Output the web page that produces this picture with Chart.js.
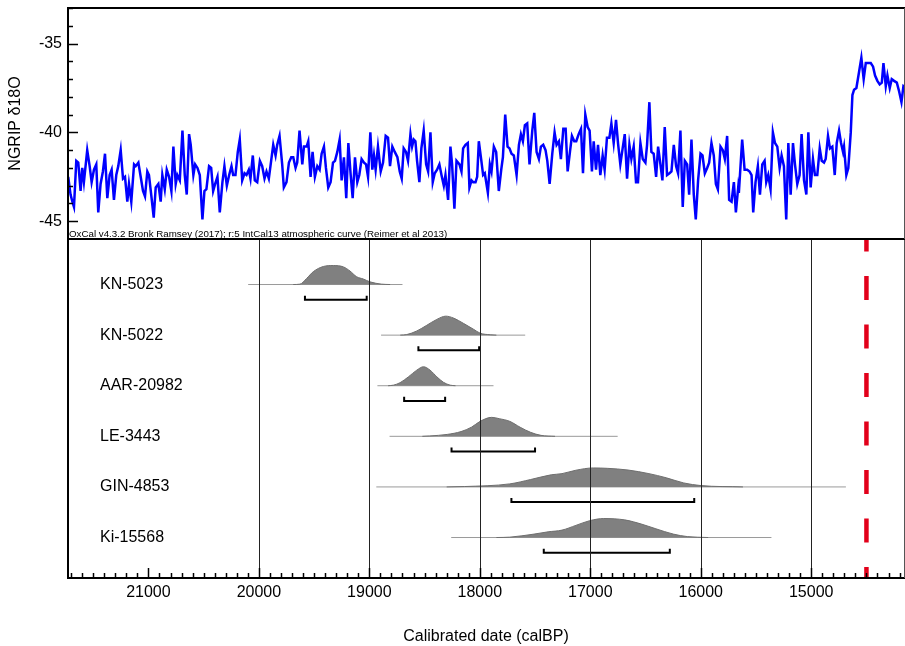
<!DOCTYPE html>
<html>
<head>
<meta charset="utf-8">
<script src="https://cdn.jsdelivr.net/npm/chart.js@4.4.0/dist/chart.umd.min.js"></script>
<style>
    body { margin: 0; background: #fff; }
    #wrap { position: relative; width: 905px; height: 646px; }
    canvas { position: absolute; left: 0; }
</style>
</head>
<body>
<div id="wrap">
    <canvas id="ngripChart" width="905" height="240" style="top:0"></canvas>
    <canvas id="datesChart" width="905" height="406" style="top:240px"></canvas>
</div>
<script>
// --- NGRIP d18O record (age calBP, permil) ---
const ngripAge = [
    21726, 21705, 21684, 21674, 21653, 21635, 21614, 21599, 21584, 21569, 21554, 21532, 21514, 21493, 21472, 21454,
    21433, 21412, 21393, 21372, 21351, 21333, 21312, 21291, 21273, 21251, 21230, 21212, 21191, 21176, 21155, 21130,
    21115, 21091, 21070, 21049, 21031, 21010, 20995, 20973, 20952, 20934, 20910, 20889, 20874, 20852, 20834, 20813,
    20792, 20774, 20753, 20738, 20716, 20692, 20671, 20653, 20632, 20617, 20593, 20577, 20556, 20535, 20511, 20493,
    20475, 20451, 20432, 20414, 20396, 20375, 20354, 20330, 20312, 20290, 20269, 20248, 20233,
    20212, 20191, 20173, 20151, 20130, 20112, 20091, 20076, 20055, 20037, 20015, 19991, 19970, 19949, 19931, 19910,
    19889, 19870, 19849, 19834, 19813, 19789, 19774, 19750, 19728, 19707, 19689, 19668, 19653, 19632, 19607, 19592,
    19568, 19553, 19532, 19514, 19493, 19471, 19450, 19432, 19411, 19393, 19372, 19351, 19329, 19311, 19290, 19269,
    19251, 19230, 19209, 19190, 19169, 19151, 19130, 19109, 19091, 19070, 19048, 19030, 19012, 18991, 18973, 18958,
    18943, 18922, 18897, 18876, 18852, 18831, 18813, 18792, 18770, 18746, 18725, 18707,
    18689, 18668, 18650, 18628, 18613, 18598, 18583, 18568, 18547, 18529, 18508, 18486, 18468, 18447, 18426, 18408,
    18387, 18366, 18347, 18326, 18311, 18287, 18266, 18251, 18230, 18211, 18184, 18166, 18151, 18130, 18109, 18094,
    18075, 18060, 18039, 18024, 18009, 17988, 17970, 17955, 17927, 17909, 17894, 17873, 17852, 17828, 17806, 17791,
    17770, 17749, 17731, 17713, 17692, 17667, 17646, 17628, 17610, 17592, 17571, 17550, 17525, 17507, 17486, 17465,
    17447, 17426, 17405, 17389, 17368, 17344, 17323, 17305, 17284, 17266, 17244, 17223, 17205, 17184,
    17166, 17145, 17127, 17105, 17084, 17066, 17045, 17024, 17006, 16985, 16969, 16948, 16930, 16909, 16888, 16870,
    16849, 16827, 16809, 16788, 16767, 16749, 16728, 16707, 16688, 16667, 16646, 16628, 16607, 16586, 16568, 16546,
    16525, 16501, 16486, 16465, 16447, 16426, 16404, 16386, 16365, 16347, 16326, 16305, 16283, 16265, 16244, 16223,
    16205, 16184, 16163, 16144, 16123, 16105, 16084, 16063, 16045, 16024, 16002, 15984, 15963, 15942, 15924, 15903,
    15882, 15863, 15845, 15821, 15800, 15782, 15761, 15743, 15721, 15700, 15682, 15661,
    15655, 15625, 15603, 15579, 15558, 15540, 15525, 15504, 15483, 15464, 15443, 15422, 15407, 15389, 15368, 15347,
    15328, 15307, 15286, 15268, 15247, 15226, 15207, 15186, 15165, 15147, 15126, 15105, 15087, 15065, 15044, 15026,
    15005, 14984, 14966, 14945, 14923, 14905, 14884, 14869, 14848, 14830, 14809, 14787, 14769, 14748, 14730, 14712,
    14703, 14682, 14664, 14642, 14627, 14612, 14591, 14567, 14546, 14525, 14506, 14485, 14461, 14440, 14422, 14401,
    14380, 14361, 14346, 14325, 14310, 14289, 14271, 14250, 14225, 14204, 14183, 14165, 14144
];
const ngripD18O = [
    -42.5, -43.5, -44.0, -44.2, -41.6, -41.7, -43.3, -42.0, -42.8, -41.9, -41.0, -41.9, -42.8, -42.1, -41.8, -44.5,
    -42.9, -42.2, -41.2, -43.7, -42.4, -42.1, -43.8, -42.4, -41.9, -41.0, -42.6, -42.5, -43.9, -42.9, -43.9, -41.8,
    -41.9, -41.7, -42.5, -43.3, -43.6, -42.2, -42.4, -43.6, -44.8, -43.1, -42.9, -43.9, -42.4, -43.2, -42.1, -42.5,
    -43.3, -40.8, -42.9, -42.4, -42.7, -39.9, -42.4, -43.5, -40.1, -40.7, -42.4, -41.8, -42.0, -42.4, -44.9, -43.3,
    -43.2, -41.9, -42.0, -43.3, -42.9, -42.5, -44.5, -42.8, -41.9, -43.0, -42.4, -41.9, -42.4,
    -42.4, -41.1, -40.4, -42.7, -42.3, -42.4, -42.1, -42.6, -41.3, -42.7, -42.8, -41.6, -41.9, -42.6, -42.2, -42.6,
    -41.6, -40.7, -41.3, -40.7, -40.2, -41.8, -43.1, -42.8, -41.7, -41.4, -41.4, -42.0, -41.7, -39.9, -41.8, -40.8,
    -40.8, -40.5, -42.5, -41.1, -42.5, -41.9, -42.1, -41.2, -40.8, -42.0, -43.1, -42.8, -41.7, -41.6, -41.1, -40.4,
    -42.7, -41.4, -43.7, -40.6, -42.4, -43.7, -41.4, -42.8, -42.4, -41.5, -41.7, -41.8, -42.5, -40.0, -42.1, -41.3,
    -42.1, -40.8, -42.2, -41.7, -40.2, -40.3, -41.9, -40.8, -41.1, -41.4, -42.2, -42.6,
    -40.9, -41.1, -41.6, -40.1, -40.8, -40.4, -40.5, -41.6, -42.8, -40.9, -39.9, -41.8, -42.2, -40.0, -42.8, -42.3,
    -42.1, -41.8, -42.4, -43.0, -42.4, -43.8, -40.8, -41.8, -44.3, -41.6, -41.8, -42.2, -40.9, -40.7, -40.6, -43.1,
    -42.7, -42.8, -42.8, -42.5, -40.5, -41.5, -42.4, -42.3, -43.4, -41.8, -42.2, -40.8, -41.1, -43.3, -42.1, -41.4,
    -39.0, -40.8, -40.9, -41.2, -41.3, -42.4, -40.7, -40.1, -40.5, -39.6, -39.5, -41.8, -39.9, -38.9, -41.1, -41.5,
    -40.8, -40.7, -41.0, -41.6, -42.9, -41.2, -40.0, -40.7, -40.5, -41.5, -39.8, -39.8, -42.2, -41.1,
    -40.2, -40.5, -40.5, -40.1, -39.8, -42.3, -39.0, -39.7, -39.9, -42.2, -40.5, -42.1, -40.7, -42.4, -41.3, -42.1,
    -40.3, -40.3, -39.5, -40.6, -39.3, -40.6, -41.8, -40.9, -40.1, -42.6, -40.7, -41.5, -40.8, -42.8, -42.8, -40.6,
    -41.5, -41.7, -40.7, -38.3, -41.1, -41.2, -42.5, -40.8, -41.8, -42.7, -39.7, -42.4, -42.3, -42.2, -40.7, -41.9,
    -42.3, -39.9, -44.2, -41.6, -41.8, -43.5, -40.4, -43.5, -44.9, -42.7, -41.2, -41.3, -42.3, -42.0, -41.7, -40.6,
    -41.3, -42.9, -43.2, -40.8, -41.0, -41.5, -40.2, -43.8, -43.9, -42.8, -44.5, -43.1,
    -43.4, -40.4, -42.1, -42.1, -42.2, -42.4, -44.5, -42.8, -41.9, -43.5, -41.8, -41.6, -42.8, -42.4, -43.2, -40.0,
    -40.6, -40.8, -42.0, -41.3, -41.9, -44.9, -40.6, -43.5, -40.6, -41.8, -42.9, -42.4, -40.1, -42.7, -43.5, -40.0,
    -43.1, -41.5, -42.4, -42.4, -40.9, -41.6, -41.7, -41.5, -40.2, -40.9, -40.8, -42.4, -40.6, -39.9, -40.6, -41.1,
    -40.8, -42.4, -42.0, -40.0, -37.9, -37.6, -37.5, -36.6, -35.8, -37.0, -36.1, -36.1, -36.1, -36.3, -36.8, -37.1,
    -37.3, -37.2, -36.1, -37.4, -36.8, -37.5, -37.0, -37.1, -37.2, -37.7, -38.3, -37.4, -37.5
];

// --- Calibrated radiocarbon dates ---
const sampleLabels = ['KN-5023', 'KN-5022', 'AAR-20982', 'LE-3443', 'GIN-4853', 'Ki-15568'];
const rangeStart = [20097, 18894, 18927, 18817, 18937, 18259];
const rangeEnd = [18700, 17589, 17876, 16752, 14686, 15360];
const bracketFrom = [19583, 18556, 18685, 18256, 17714, 17421];
const bracketTo = [19024, 18006, 18314, 17500, 16059, 16280];
const probAges = [
    [19689, 19628, 19568, 19507, 19417, 19326, 19235, 19175, 19115, 19054, 18994, 18888, 18812],
    [18720, 18661, 18570, 18480, 18389, 18308, 18238, 18148, 18057, 17996, 17906, 17850],
    [18830, 18782, 18722, 18646, 18571, 18510, 18450, 18389, 18329, 18268, 18220],
    [18520, 18454, 18296, 18170, 18076, 17997, 17893, 17824, 17729, 17635, 17540, 17446, 17319],
    [18300, 18139, 17729, 17540, 17353, 17256, 17130, 16973, 16847, 16658, 16469, 16311, 16154, 15996, 15618],
    [17850, 17729, 17509, 17382, 17256, 17130, 17004, 16878, 16689, 16532, 16406, 16248, 16122, 15933]
];
const probValues = [
    [0, 0.02, 0.32, 0.68, 0.95, 1, 0.93, 0.71, 0.41, 0.29, 0.14, 0.02, 0],
    [0, 0.03, 0.22, 0.52, 0.83, 1, 0.9, 0.62, 0.31, 0.1, 0.02, 0],
    [0, 0.03, 0.16, 0.47, 0.82, 1, 0.82, 0.47, 0.18, 0.03, 0],
    [0, 0.02, 0.1, 0.25, 0.48, 0.79, 1, 0.93, 0.79, 0.48, 0.21, 0.05, 0],
    [0, 0.02, 0.16, 0.39, 0.64, 0.7, 0.88, 1, 0.98, 0.89, 0.7, 0.48, 0.21, 0.07, 0],
    [0, 0.02, 0.18, 0.3, 0.39, 0.64, 0.89, 1, 0.93, 0.7, 0.46, 0.18, 0.05, 0]
];
const markerAge = 14500;

// --- Axes ---
const ageMin = 14160;
const ageMax = 21728;
const ageTicks = [21000, 20000, 19000, 18000, 17000, 16000, 15000];
const gridAges = [20000, 19000, 18000, 17000, 16000, 15000];
const d18OTicks = [-45, -40, -35];

const FONT = "'Liberation Sans', Arial, sans-serif";
Chart.defaults.font.family = FONT;
Chart.defaults.font.size = 16;
Chart.defaults.color = '#000';

// row layout in the lower panel (value units of the hidden y scale)
const rowMax = 0.88, rowMin = -5.8;
const peakHeight = 0.375, bracketDrop = 0.3, bracketTick = 0.08;

const line = (ctx, x1, y1, x2, y2) => {
    ctx.beginPath();
    ctx.moveTo(x1, y1);
    ctx.lineTo(x2, y2);
    ctx.stroke();
};

// Top panel frame, ticks and credit line
const ngripDecor = {
    id: 'ngripDecor',
    afterDraw(chart) {
        const { ctx, chartArea: a, scales: { y } } = chart;
        ctx.save();
        ctx.strokeStyle = '#000';
        ctx.lineWidth = 1.5;
        for (let v = -46; v <= -33; v++) {
            const py = Math.round(y.getPixelForValue(v)) + 0.5;
            line(ctx, a.left, py, a.left + (v % 5 === 0 ? 10 : 5), py);
        }
        ctx.lineWidth = 2;
        line(ctx, a.left - 1, a.top, a.right + 1, a.top);
        line(ctx, a.left - 1, a.bottom, a.right + 1, a.bottom);
        line(ctx, a.left, a.top - 1, a.left, a.bottom + 1);
        ctx.lineWidth = 1;
        ctx.strokeStyle = '#555';
        line(ctx, a.right + 0.5, a.top, a.right + 0.5, a.bottom);

        ctx.fillStyle = '#000';
        ctx.font = `9.75px ${FONT}`;
        ctx.textBaseline = 'alphabetic';
        ctx.fillText('OxCal v4.3.2 Bronk Ramsey (2017); r:5 IntCal13 atmospheric curve (Reimer et al 2013)', a.left + 1, a.bottom - 2.5);
        ctx.restore();
    }
};

// Lower panel gridlines, frame, ticks and sample names
const datesDecor = {
    id: 'datesDecor',
    afterDatasetsDraw(chart) {
        const { ctx, chartArea: a, scales: { x } } = chart;
        ctx.save();
        ctx.strokeStyle = '#222';
        ctx.lineWidth = 1;
        gridAges.forEach(age => {
            const px = Math.round(x.getPixelForValue(age)) + 0.5;
            line(ctx, px, a.top, px, a.bottom);
        });
        ctx.restore();
    },
    afterDraw(chart) {
        const { ctx, chartArea: a, scales: { x, y } } = chart;
        ctx.save();
        ctx.strokeStyle = '#000';
        ctx.lineWidth = 1.5;
        for (let age = 14200; age <= 21700; age += 100) {
            const px = Math.round(x.getPixelForValue(age)) + 0.5;
            line(ctx, px, a.bottom, px, a.bottom - (age % 1000 === 0 ? 10 : 5));
        }
        ctx.lineWidth = 2;
        line(ctx, a.left, a.top, a.left, a.bottom + 1);
        line(ctx, a.left - 1, a.bottom, a.right + 1, a.bottom);
        ctx.lineWidth = 1;
        ctx.strokeStyle = '#555';
        line(ctx, a.right + 0.5, a.top, a.right + 0.5, a.bottom);

        ctx.fillStyle = '#000';
        ctx.font = `16px ${FONT}`;
        ctx.textBaseline = 'middle';
        sampleLabels.forEach((name, i) => {
            ctx.fillText(name, 100, y.getPixelForValue(-i));
        });
        ctx.restore();
    }
};

const ageAxis = {
    type: 'linear',
    reverse: true,
    min: ageMin,
    max: ageMax
};

new Chart(document.getElementById('ngripChart'), {
    type: 'line',
    data: {
        datasets: [{
            data: ngripAge.map((a, i) => ({ x: a, y: ngripD18O[i] })),
            borderColor: '#0000ff',
            borderWidth: 2.5,
            pointRadius: 0,
            tension: 0
        }]
    },
    options: {
        responsive: false,
        animation: false,
        events: [],
        layout: { autoPadding: false, padding: { top: 8, right: 1, bottom: 1, left: 0 } },
        plugins: { legend: { display: false }, tooltip: { enabled: false } },
        scales: {
            x: { ...ageAxis, display: false },
            y: {
                min: -46,
                max: -33,
                afterBuildTicks: s => { s.ticks = d18OTicks.map(v => ({ value: v })); },
                // fixed axis width, and no label overhang padding
                afterFit: s => {
                    s.width = 68;
                    s.paddingTop = 0;
                    s.paddingBottom = 0;
                },
                grid: { display: false, drawTicks: false },
                border: { display: false },
                ticks: { padding: 6, callback: v => String(v) },
                title: { display: true, text: 'NGRIP δ18O', padding: { top: 6, bottom: 0 } }
            }
        }
    },
    plugins: [ngripDecor]
});

// Build the lower panel datasets
const datasets = [];
sampleLabels.forEach((name, i) => {
    const base = -i;
    datasets.push({
        label: name + ' range',
        data: [{ x: rangeStart[i], y: base }, { x: rangeEnd[i], y: base }],
        borderColor: '#9a9a9a',
        borderWidth: 1,
        pointRadius: 0,
        order: 4
    });
    datasets.push({
        label: name,
        data: probAges[i].map((a, j) => ({ x: a, y: base + probValues[i][j] * peakHeight })),
        borderColor: '#6e6e6e',
        borderWidth: 1,
        backgroundColor: '#808080',
        fill: { value: base },
        pointRadius: 0,
        tension: 0.4,
        cubicInterpolationMode: 'monotone',
        order: 3
    });
    const by = base - bracketDrop;
    datasets.push({
        label: name + ' 95%',
        data: [
            { x: bracketFrom[i], y: by + bracketTick },
            { x: bracketFrom[i], y: by },
            { x: bracketTo[i], y: by },
            { x: bracketTo[i], y: by + bracketTick }
        ],
        borderColor: '#000',
        borderWidth: 2,
        pointRadius: 0,
        order: 2
    });
});
datasets.push({
    label: 'marker',
    data: [{ x: markerAge, y: rowMax }, { x: markerAge, y: rowMin }],
    borderColor: '#e2001a',
    borderWidth: 4.5,
    borderDash: [24, 24.5],
    borderDashOffset: 12.5,
    borderCapStyle: 'butt',
    pointRadius: 0,
    order: 1
});

new Chart(document.getElementById('datesChart'), {
    type: 'line',
    data: { datasets },
    options: {
        responsive: false,
        animation: false,
        events: [],
        layout: { autoPadding: false, padding: { top: 0, right: 1, bottom: 0, left: 68 } },
        plugins: { legend: { display: false }, tooltip: { enabled: false } },
        scales: {
            x: {
                ...ageAxis,
                afterBuildTicks: s => { s.ticks = ageTicks.map(v => ({ value: v })); },
                afterFit: s => { s.height = 68; },
                grid: { display: false, drawTicks: false },
                border: { display: false },
                ticks: { padding: 5, maxRotation: 0, callback: v => String(v) },
                title: { display: true, text: 'Calibrated date (calBP)', padding: { top: 0, bottom: 0 } }
            },
            y: { min: rowMin, max: rowMax, display: false }
        }
    },
    plugins: [datesDecor]
});
</script>
</body>
</html>
